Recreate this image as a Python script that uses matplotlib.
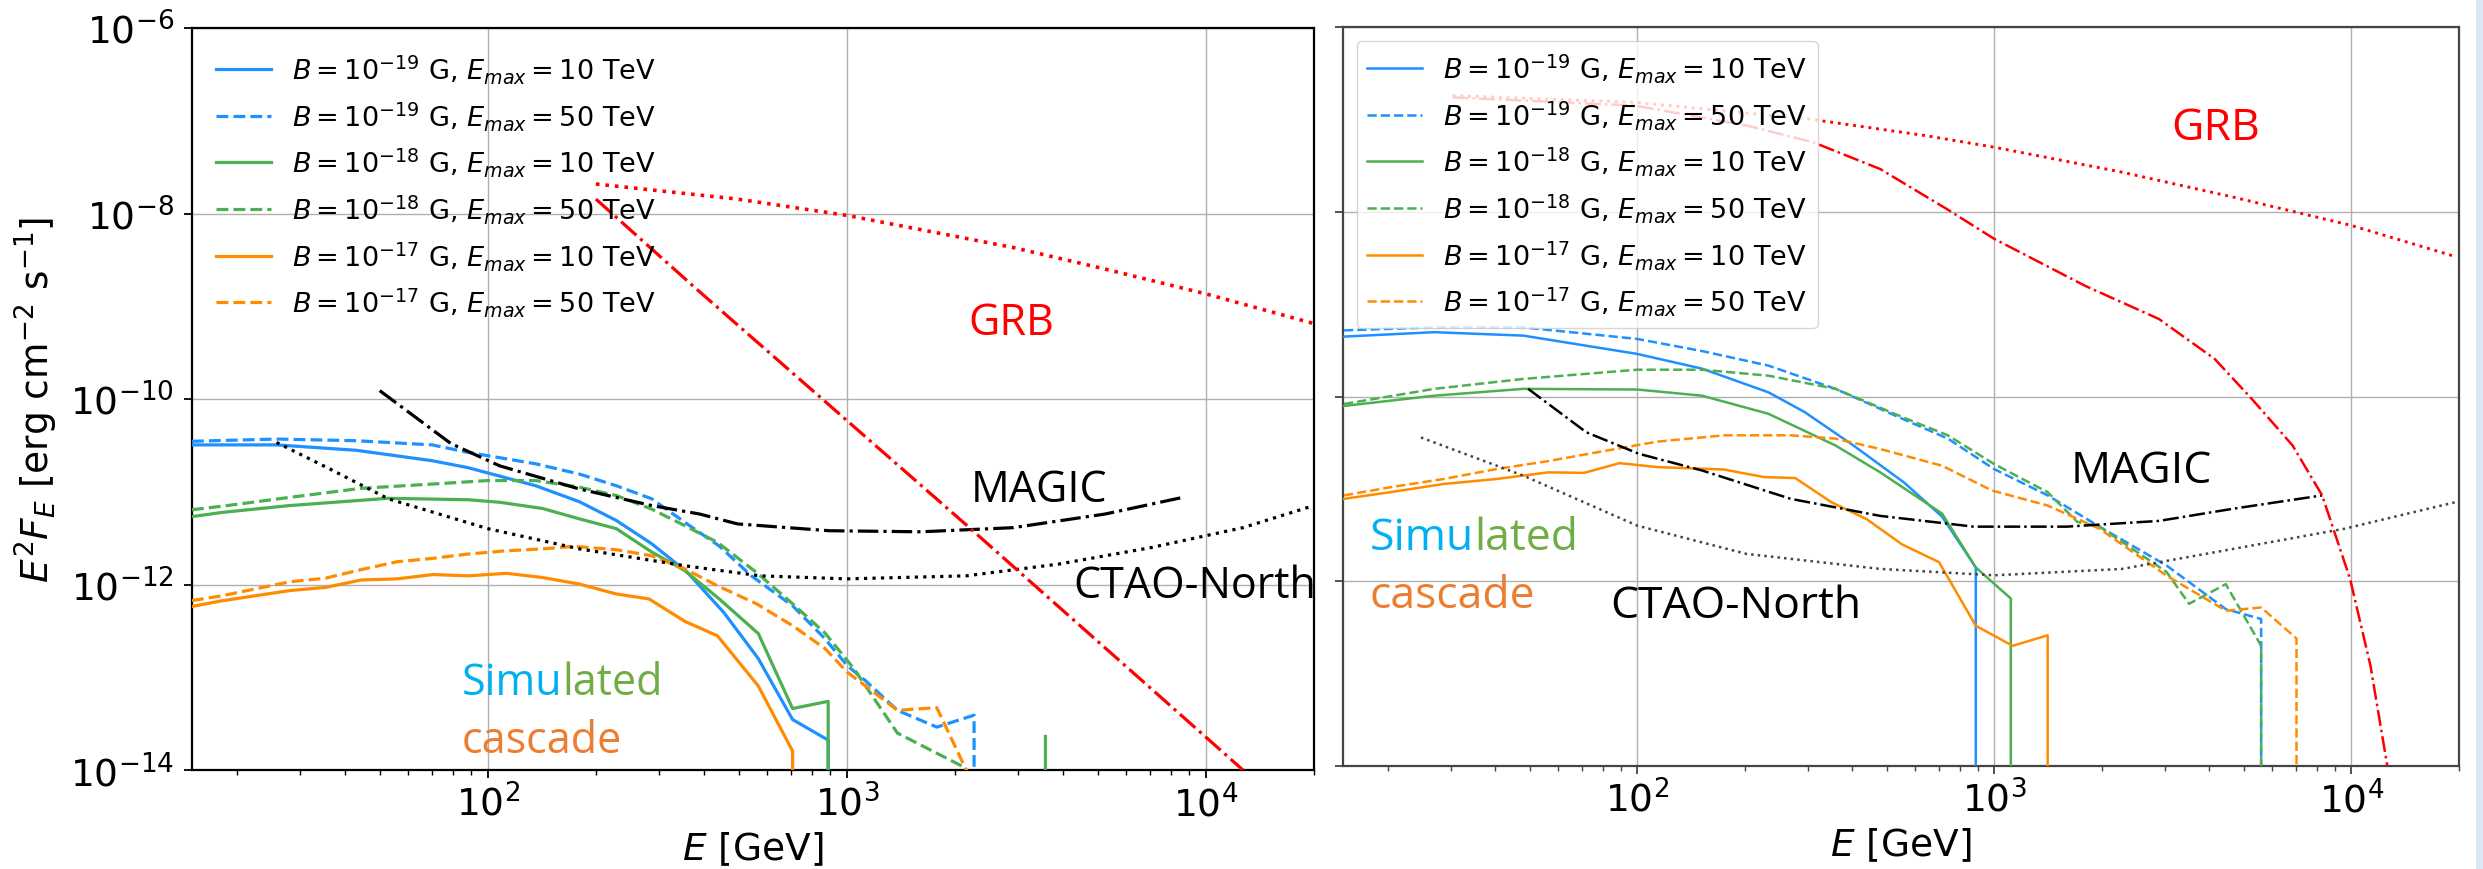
import numpy as np
import matplotlib
matplotlib.use("Agg")
import matplotlib.pyplot as plt
from matplotlib.ticker import FixedLocator, LogLocator, NullLocator, LogFormatterSciNotation
from matplotlib.patches import Rectangle

nan = np.nan

# ---------------- left panel: cascade spectra (E in GeV, E^2 F_E in erg cm^-2 s^-1) ----------------
l_e_b19_10 = [15, 25.8, 43, 70, 88, 136, 180, 228, 286, 359, 454, 566, 706, 887, 887]
l_f_b19_10 = [3.2e-11, 3.2e-11, 2.8e-11, 2.16e-11, 1.82e-11, 1.16e-11, 7.8e-12, 4.9e-12, 2.75e-12,
              1.36e-12, 5.0e-13, 1.6e-13, 3.5e-14, 2.1e-14, 1e-16]
l_e_b19_50 = [15, 25.8, 43, 70, 88, 136, 180, 228, 286, 356, 441, 542, 706, 869, 1003, 1126, 1383,
              1780, 2261, 2261]
l_f_b19_50 = [3.5e-11, 3.7e-11, 3.55e-11, 3.2e-11, 2.66e-11, 2.0e-11, 1.55e-11, 1.16e-11, 8.4e-12,
              4.6e-12, 2.6e-12, 1.24e-12, 5.9e-13, 2.6e-13, 1.33e-13, 9.2e-14, 4.4e-14, 2.9e-14,
              3.9e-14, 1e-16]
l_e_b18_10 = [15, 18.3, 28.1, 52.8, 88, 108, 142, 180, 228, 286, 354, 441, 567, 706, 887, 887,
              nan, 3573, 3573]
l_f_b18_10 = [5.4e-12, 6.0e-12, 7.1e-12, 8.5e-12, 8.2e-12, 7.7e-12, 6.6e-12, 5.1e-12, 4.0e-12,
              2.24e-12, 1.41e-12, 7.0e-13, 2.95e-13, 4.6e-14, 5.5e-14, 1e-16, nan, 1e-16, 2.3e-14]
l_e_b18_50 = [15, 18.3, 28.1, 44.5, 70, 100, 136, 180, 228, 286, 354, 436, 560, 706, 869, 1049,
              1383, 2123, 2200]
l_f_b18_50 = [6.4e-12, 7.0e-12, 8.7e-12, 1.09e-11, 1.21e-11, 1.32e-11, 1.32e-11, 1.12e-11, 9.1e-12,
              6.5e-12, 4.3e-12, 2.85e-12, 1.35e-12, 6.2e-13, 3.0e-13, 1.22e-13, 2.5e-14, 1.07e-14,
              9e-15]
l_e_b17_10 = [15, 18.3, 28.1, 35.3, 44.5, 55.9, 70.3, 88.4, 112.7, 142, 180, 228, 281, 354, 436,
              566, 706, 706]
l_f_b17_10 = [5.8e-13, 6.7e-13, 8.6e-13, 9.3e-13, 1.12e-12, 1.15e-12, 1.28e-12, 1.24e-12, 1.32e-12,
              1.19e-12, 1.01e-12, 7.9e-13, 7.0e-13, 4.0e-13, 2.8e-13, 8.1e-14, 1.6e-14, 1e-16]
l_e_b17_50 = [15, 18.3, 28.1, 35.3, 44.5, 55.9, 70, 88, 112.7, 142, 174, 228, 286, 354, 436, 560,
              706, 869, 1003, 1126, 1383, 1780, 2150, 2180]
l_f_b17_50 = [6.7e-13, 7.6e-13, 1.07e-12, 1.17e-12, 1.45e-12, 1.76e-12, 1.91e-12, 2.13e-12, 2.31e-12,
              2.42e-12, 2.58e-12, 2.37e-12, 2.04e-12, 1.47e-12, 9.7e-13, 6.2e-13, 3.6e-13, 2.04e-13,
              1.13e-13, 8.1e-14, 4.4e-14, 4.7e-14, 1.0e-14, 5e-15]

# sensitivities and GRB intrinsic / absorbed spectra (left panel)
l_e_magic = [50, 79, 108, 180, 286, 389, 496, 893, 1610, 2904, 5236, 8508]
l_f_magic = [1.23e-10, 3.3e-11, 1.9e-11, 1.07e-11, 7.1e-12, 5.75e-12, 4.5e-12, 3.8e-12, 3.7e-12,
             4.1e-12, 5.75e-12, 8.6e-12]
l_e_ctao = [25.8, 36.3, 52.8, 100, 180, 359, 574, 1000, 2150, 3890, 7033, 12680, 20000]
l_f_ctao = [3.4e-11, 1.76e-11, 8.4e-12, 4.0e-12, 2.42e-12, 1.58e-12, 1.24e-12, 1.15e-12, 1.24e-12,
            1.66e-12, 2.5e-12, 4.1e-12, 7.1e-12]
l_e_grb_int = [200, 496, 1007, 2904, 5236, 10000, 20000]
l_f_grb_int = [2.08e-8, 1.43e-8, 9.5e-9, 4.3e-9, 2.52e-9, 1.36e-9, 6.5e-10]
l_e_grb_abs = [200, 380, 2164, 12680]
l_f_grb_abs = [1.43e-8, 1.55e-9, 4.3e-12, 1.0e-14]

# ---------------- right panel ----------------
r_e_b19_10 = [15.1, 27, 48, 100, 152, 233, 294, 403, 559, 714, 887, 887]
r_f_b19_10 = [4.45e-10, 4.97e-10, 4.56e-10, 2.89e-10, 2.0e-10, 1.11e-10, 6.8e-11, 2.95e-11, 1.17e-11,
              5.0e-12, 1.41e-12, 1e-16]
r_e_b19_50 = [15.1, 27, 48, 100, 152, 233, 359, 552, 741, 998, 1410, 1970, 3035, 4446, 5585, 5585]
r_f_b19_50 = [5.2e-10, 5.6e-10, 5.6e-10, 4.2e-10, 3.1e-10, 2.16e-10, 1.21e-10, 5.75e-11, 3.5e-11,
              1.64e-11, 8.5e-12, 3.9e-12, 1.48e-12, 5.0e-13, 3.9e-13, 1e-16]
r_e_b18_10 = [15.1, 27, 48, 100, 152, 233, 269, 359, 479, 714, 887, 1112, 1112]
r_f_b18_10 = [7.9e-11, 1.02e-10, 1.21e-10, 1.19e-10, 1.02e-10, 6.5e-11, 5.0e-11, 2.95e-11, 1.51e-11,
              5.4e-12, 1.41e-12, 6.5e-13, 1e-16]
r_e_b18_50 = [15.1, 27, 48, 100, 152, 233, 359, 552, 741, 998, 1410, 1706, 1970, 3035, 3509, 4446,
              5585, 5585]
r_f_b18_50 = [8.3e-11, 1.21e-10, 1.55e-10, 1.95e-10, 1.95e-10, 1.68e-10, 1.21e-10, 6.0e-11, 3.8e-11,
              1.86e-11, 9.2e-12, 4.4e-12, 3.9e-12, 1.26e-12, 5.7e-13, 9.3e-13, 2.0e-13, 1e-16]
r_e_b17_10 = [15.1, 20.3, 28.7, 40.4, 56.4, 71, 89.2, 114, 175, 227, 277, 349, 439, 552, 700, 887,
              1125, 1410, 1410]
r_f_b17_10 = [7.8e-12, 9.2e-12, 1.13e-11, 1.28e-11, 1.51e-11, 1.49e-11, 1.9e-11, 1.72e-11, 1.62e-11,
              1.34e-11, 1.31e-11, 7.2e-12, 4.7e-12, 2.5e-12, 1.61e-12, 3.3e-13, 2.0e-13, 2.6e-13, 1e-16]
r_e_b17_50 = [15.1, 20.3, 28.7, 40.4, 56.4, 89.2, 114, 175, 269, 359, 479, 714, 985, 1410, 1970,
              3035, 4446, 5585, 7015, 7015]
r_f_b17_50 = [8.5e-12, 1.04e-11, 1.28e-11, 1.64e-11, 2.0e-11, 2.75e-11, 3.25e-11, 3.8e-11, 3.8e-11,
              3.5e-11, 2.7e-11, 1.78e-11, 9.6e-12, 6.6e-12, 3.7e-12, 1.15e-12, 4.8e-13, 5.2e-13,
              2.4e-13, 1e-16]

r_e_magic = [49.5, 72, 101, 152, 269, 479, 875, 1593, 2890, 4666, 8277]
r_f_magic = [1.21e-10, 4.1e-11, 2.4e-11, 1.58e-11, 7.8e-12, 5.1e-12, 3.9e-12, 3.9e-12, 4.5e-12,
             6.1e-12, 8.5e-12]
r_e_ctao = [24.8, 48, 100, 202, 479, 1000, 2280, 4666, 9550, 19600]
r_f_ctao = [3.6e-11, 1.39e-11, 4.0e-12, 1.98e-12, 1.36e-12, 1.16e-12, 1.36e-12, 2.24e-12, 3.7e-12,
            7.2e-12]
r_e_grb_int = [30.4, 98.6, 302, 637, 998, 2280, 4666, 10000, 19150]
r_f_grb_int = [1.81e-7, 1.53e-7, 1.01e-7, 6.7e-8, 5.0e-8, 2.68e-8, 1.44e-8, 7.1e-9, 3.35e-9]
r_e_grb_abs = [30.4, 98.6, 202, 311, 479, 736, 998, 1794, 2890, 4140, 5260, 6840, 8277, 9910, 11300,
               12600]
r_f_grb_abs = [1.73e-7, 1.41e-7, 8.6e-8, 5.65e-8, 2.9e-8, 1.07e-8, 5.1e-9, 1.58e-9, 6.9e-10,
               2.55e-10, 9.4e-11, 2.95e-11, 8.5e-12, 1.06e-12, 1.22e-13, 1.0e-14]

legend_labels = [r"$B = 10^{-19}$ G, $E_{max} = 10$ TeV",
                 r"$B = 10^{-19}$ G, $E_{max} = 50$ TeV",
                 r"$B = 10^{-18}$ G, $E_{max} = 10$ TeV",
                 r"$B = 10^{-18}$ G, $E_{max} = 50$ TeV",
                 r"$B = 10^{-17}$ G, $E_{max} = 10$ TeV",
                 r"$B = 10^{-17}$ G, $E_{max} = 50$ TeV"]

BLUE, GREEN, ORANGE = "#1e90ff", "#4caf50", "#ff8c00"
ANNOT_FONT = ["Open Sans", "DejaVu Sans"]

fig = plt.figure(figsize=(24.83, 8.70), dpi=100)
axL = fig.add_axes([192 / 2483, 1 - 771 / 870, 1122 / 2483, 742 / 870])
axR = fig.add_axes([1343 / 2483, 1 - 767 / 870, 1116 / 2483, 739 / 870])


def draw_panel(ax, curves, magic, ctao, grb_int, grb_abs, lw, spine_col, sens_col, legend_frame):
    styles = [(BLUE, "-"), (BLUE, "--"), (GREEN, "-"), (GREEN, "--"), (ORANGE, "-"), (ORANGE, "--")]
    for (e, f), (c, ls), lab in zip(curves, styles, legend_labels):
        ax.plot(e, f, color=c, ls=ls, lw=lw, label=lab, zorder=3)
    ax.plot(magic[0], magic[1], color="black", ls="-.", lw=lw, zorder=3)
    ax.plot(ctao[0], ctao[1], color=sens_col, ls=":", lw=lw, zorder=3)
    ax.plot(grb_int[0], grb_int[1], color="red", ls=":", lw=lw + 0.3, zorder=3)
    ax.plot(grb_abs[0], grb_abs[1], color="red", ls="-.", lw=lw, zorder=3)

    ax.set_xscale("log")
    ax.set_yscale("log")
    ax.set_xlim(15, 2e4)
    ax.set_ylim(1e-14, 1e-6)
    ax.yaxis.set_major_locator(FixedLocator([1e-14, 1e-12, 1e-10, 1e-8, 1e-6]))
    ax.yaxis.set_minor_locator(NullLocator())
    ax.xaxis.set_major_locator(FixedLocator([1e2, 1e3, 1e4]))
    ax.xaxis.set_major_formatter(LogFormatterSciNotation())
    ax.xaxis.set_minor_locator(LogLocator(base=10, subs=np.arange(2, 10), numticks=20))
    ax.grid(True, which="major", color="#b0b0b0", lw=1.0, zorder=0)
    for s in ax.spines.values():
        s.set_color(spine_col)
        s.set_linewidth(1.6)
    ax.tick_params(which="major", length=6, width=1.3, color=spine_col, labelsize=27, pad=4)
    ax.tick_params(axis="y", pad=7)
    ax.tick_params(which="minor", length=3.5, width=1.0, color=spine_col)
    ax.set_xlabel(r"$E$ [GeV]", fontsize=27)
    ax.xaxis.set_label_coords(0.5, -0.080)
    leg = ax.legend(loc="upper left", fontsize=19.5, frameon=legend_frame)
    leg.set_zorder(5)


draw_panel(axL,
           [(l_e_b19_10, l_f_b19_10), (l_e_b19_50, l_f_b19_50), (l_e_b18_10, l_f_b18_10),
            (l_e_b18_50, l_f_b18_50), (l_e_b17_10, l_f_b17_10), (l_e_b17_50, l_f_b17_50)],
           (l_e_magic, l_f_magic), (l_e_ctao, l_f_ctao),
           (l_e_grb_int, l_f_grb_int), (l_e_grb_abs, l_f_grb_abs),
           lw=2.3, spine_col="black", sens_col="black", legend_frame=False)
axL.set_ylabel(r"$E^2F_E$ [erg cm$^{-2}$ s$^{-1}$]", fontsize=27)
axL.yaxis.set_label_coords(-0.118, 0.5)

draw_panel(axR,
           [(r_e_b19_10, r_f_b19_10), (r_e_b19_50, r_f_b19_50), (r_e_b18_10, r_f_b18_10),
            (r_e_b18_50, r_f_b18_50), (r_e_b17_10, r_f_b17_10), (r_e_b17_50, r_f_b17_50)],
           (r_e_magic, r_f_magic), (r_e_ctao, r_f_ctao),
           (r_e_grb_int, r_f_grb_int), (r_e_grb_abs, r_f_grb_abs),
           lw=1.8, spine_col="#444444", sens_col="#444444", legend_frame=True)
axR.tick_params(axis="y", labelleft=False)


def annotate_panel(ax, grb_xy, magic_xy, ctao_xy, sim_xy, casc_xy, size):
    ax.text(*grb_xy, "GRB", color="red", fontsize=size, family=ANNOT_FONT, ha="center", va="baseline")
    ax.text(*magic_xy, "MAGIC", color="black", fontsize=size, family=ANNOT_FONT, ha="center",
            va="baseline")
    ax.text(*ctao_xy, "CTAO-North", color="black", fontsize=size, family=ANNOT_FONT, ha="left",
            va="baseline")
    t1 = ax.text(*sim_xy, "Simu", color="#00b0f0", fontsize=size, family=ANNOT_FONT, ha="left",
                 va="baseline")
    ax.annotate("lated", xy=(1, 0), xycoords=t1, color="#70ad47", fontsize=size, family=ANNOT_FONT,
                ha="left", va="bottom")
    ax.text(*casc_xy, "cascade", color="#ed7d31", fontsize=size, family=ANNOT_FONT, ha="left",
            va="baseline")


annotate_panel(axL, (2865, 5.0e-10), (3428, 7.9e-12), (4268, 7.3e-13), (84.6, 6.6e-14),
               (84.6, 1.56e-14), 31)
annotate_panel(axR, (4171, 6.1e-8), (2571, 1.19e-11), (84.1, 4.1e-13), (17.8, 2.24e-12),
               (17.8, 5.3e-13), 32)

# pale strip at the right border
fig.patches.append(Rectangle((2476 / 2483, 0), 7 / 2483, 1, transform=fig.transFigure,
                             facecolor="#dbe7f4", edgecolor="none", zorder=0))

fig.savefig("out.png", dpi=100)
